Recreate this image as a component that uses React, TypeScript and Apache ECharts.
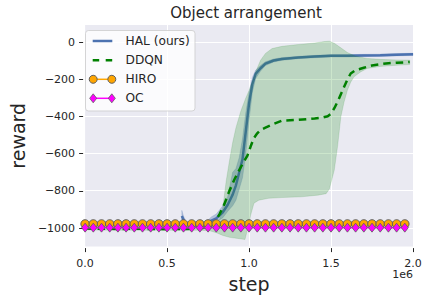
import React, { useEffect, useRef } from "react";
import * as echarts from "echarts";

const FONT = "DejaVu Sans";
const TEXT = "#262626";

// steps are in units of 1e6
const xMin = 0;
const xMax = 2;
const yMin = -1100;
const yMax = 93;
const xGrid = [0.5, 1.0, 1.5];
const yGrid = [-1000, -800, -600, -400, -200, 0];
const yTicks = [-1000, -800, -600, -400, -200, 0];

const halSteps = [0.59, 0.6, 0.61, 0.62, 0.66, 0.7, 0.74, 0.77, 0.8, 0.84, 0.87, 0.9, 0.92, 0.94, 0.96, 0.98, 1.0, 1.02, 1.04, 1.07, 1.1, 1.15, 1.2, 1.3, 1.4, 1.5, 1.6, 1.7, 1.8, 1.9, 2.0];
const halMean = [-935, -955, -970, -982, -985, -985, -978, -960, -948, -915, -875, -820, -770, -700, -630, -480, -330, -225, -170, -140, -115, -98, -90, -82, -77, -73, -73, -71, -70, -67, -65];
const halUpper = [-905, -935, -955, -972, -975, -975, -965, -940, -925, -880, -830, -700, -680, -620, -520, -380, -270, -190, -150, -125, -105, -90, -83, -76, -71, -67, -67, -65, -64, -61, -59];
const halLower = [-960, -975, -985, -992, -995, -995, -990, -978, -968, -945, -910, -880, -850, -790, -730, -600, -420, -270, -195, -155, -125, -106, -97, -88, -83, -79, -79, -77, -76, -73, -71];

const ddqnSteps = [0.0, 0.1, 0.2, 0.3, 0.4, 0.5, 0.6, 0.7, 0.75, 0.78, 0.8, 0.82, 0.85, 0.88, 0.91, 0.94, 0.97, 0.99, 1.01, 1.03, 1.05, 1.07, 1.1, 1.15, 1.2, 1.25, 1.3, 1.35, 1.4, 1.45, 1.48, 1.5, 1.52, 1.54, 1.56, 1.58, 1.6, 1.62, 1.65, 1.7, 1.75, 1.8, 1.85, 1.9, 1.95, 1.98];
const ddqnMean = [-1003, -1004, -1005, -1004, -1005, -1006, -1005, -1002, -995, -975, -955, -925, -870, -800, -740, -688, -640, -610, -560, -515, -490, -472, -460, -440, -422, -420, -418, -414, -410, -405, -398, -384, -355, -320, -280, -240, -200, -168, -150, -137, -125, -118, -113, -110, -108, -106];

const ddqnUpperSteps = [0.0, 0.2, 0.4, 0.6, 0.72, 0.78, 0.82, 0.84, 0.86, 0.88, 0.9, 0.92, 0.95, 0.98, 1.0, 1.02, 1.04, 1.07, 1.1, 1.14, 1.2, 1.3, 1.4, 1.46, 1.49, 1.52, 1.56, 1.6, 1.65, 1.72, 1.8, 1.9, 1.98];
const ddqnUpper = [-993, -993, -993, -993, -990, -978, -955, -890, -750, -640, -540, -460, -370, -300, -260, -210, -160, -97, -60, -34, -22, -12, -4, 4, 6, -5, -30, -55, -75, -87, -92, -95, -96];
const ddqnLowerSteps = [0.0, 0.2, 0.4, 0.6, 0.7, 0.76, 0.8, 0.84, 0.88, 0.93, 0.975, 0.99, 1.01, 1.03, 1.06, 1.12, 1.2, 1.32, 1.42, 1.47, 1.49, 1.52, 1.54, 1.56, 1.58, 1.6, 1.62, 1.64, 1.68, 1.72, 1.8, 1.9, 1.98];
const ddqnLower = [-1010, -1012, -1012, -1012, -1012, -1015, -1025, -1040, -1050, -1056, -1062, -1010, -930, -866, -850, -840, -836, -832, -823, -815, -790, -688, -560, -401, -320, -258, -215, -186, -160, -141, -130, -124, -120];

const markerSteps = [0, 0.05, 0.1, 0.15, 0.2, 0.25, 0.3, 0.35, 0.4, 0.45, 0.5, 0.55, 0.6, 0.65, 0.7, 0.75, 0.8, 0.85, 0.9, 0.95, 1.0, 1.05, 1.1, 1.15, 1.2, 1.25, 1.3, 1.35, 1.4, 1.45, 1.5, 1.55, 1.6, 1.65, 1.7, 1.75, 1.8, 1.85, 1.9, 1.95];
const hiroValues = [-978, -978, -978, -978, -978, -978, -978, -978, -978, -978, -978, -978, -978, -978, -978, -978, -978, -978, -978, -978, -978, -978, -978, -978, -978, -978, -978, -978, -978, -978, -978, -978, -978, -978, -978, -978, -978, -978, -978, -978];
const ocValues = [-998, -998, -998, -998, -998, -998, -998, -998, -998, -998, -998, -998, -998, -998, -998, -998, -998, -998, -998, -998, -998, -998, -998, -998, -998, -998, -998, -998, -998, -998, -998, -998, -998, -998, -998, -998, -998, -998, -998, -998];

const legendNames = ["HAL (ours)", "DDQN", "HIRO", "OC"];

const HAL_COLOR = "#4C72B0";
const DDQN_COLOR = "#008000";
const HIRO_COLOR = "#FFA500";
const OC_COLOR = "#FF00FF";
const EDGE = "#5f5f5f";
const PLOT_BG = "#EAEAF2";

function pair(xs: number[], ys: number[]) {
  return xs.map((x, i) => [x, ys[i]]);
}

function band(name: string, upX: number[], up: number[], loX: number[], lo: number[], color: string, z: number) {
  return {
    type: "custom",
    name,
    z,
    silent: true,
    clip: true,
    data: [[upX[0], up[0]]],
    renderItem: (_params: any, api: any) => {
      const pts: number[][] = [];
      for (let i = 0; i < upX.length; i++) pts.push(api.coord([upX[i], up[i]]));
      for (let i = loX.length - 1; i >= 0; i--) pts.push(api.coord([loX[i], lo[i]]));
      return {
        type: "polygon",
        shape: { points: pts },
        style: { fill: color, stroke: color, lineWidth: 0.6 },
      };
    },
  };
}

const backdrop = {
  type: "custom",
  name: "backdrop",
  z: 1,
  silent: true,
  clip: false,
  data: [[xMin, yMin]],
  renderItem: (_params: any, api: any) => {
    const tl = api.coord([xMin, yMax]);
    const br = api.coord([xMax, yMin]);
    const w = br[0] - tl[0];
    const h = br[1] - tl[1];
    const children: any[] = [
      {
        type: "rect",
        shape: { x: tl[0], y: tl[1], width: w, height: h },
        style: { fill: PLOT_BG },
      },
    ];
    for (let i = 0; i < yGrid.length; i++) {
      const p = api.coord([xMin, yGrid[i]]);
      children.push({
        type: "rect",
        shape: { x: tl[0], y: Math.round(p[1] - 0.5), width: w, height: 1 },
        style: { fill: "#ffffff" },
      });
    }
    for (let i = 0; i < xGrid.length; i++) {
      const p = api.coord([xGrid[i], yMin]);
      children.push({
        type: "rect",
        shape: { x: Math.round(p[0] - 0.5), y: tl[1], width: 1, height: h },
        style: { fill: "#ffffff" },
      });
    }
    return { type: "group", children };
  },
};

export default function App() {
  const ref = useRef<HTMLDivElement>(null);
  useEffect(() => {
    if (!ref.current) return;
    const chart = echarts.init(ref.current, undefined, { renderer: "svg" });
    const lx0 = 92.7;
    const lx1 = 112.3;
    const rows = [41, 60.3, 79.3, 98.3];
    const diamond = (cx: number, cy: number) => ({
      type: "polygon",
      z: 102,
      shape: { points: [[cx, cy - 4.5], [cx + 3.5, cy], [cx, cy + 4.5], [cx - 3.5, cy]] },
      style: { fill: OC_COLOR, stroke: EDGE, lineWidth: 0.8 },
    });
    const option: any = {
      animation: false,
      textStyle: { fontFamily: FONT },
      title: {
        text: "Object arrangement",
        left: 241,
        top: 0,
        textAlign: "center",
        textStyle: { fontFamily: FONT, fontSize: 15, fontWeight: "normal", color: TEXT },
      },
      grid: {
        left: 79,
        right: 16,
        top: 25,
        bottom: 51,
        show: false,
      },
      xAxis: {
        type: "value",
        min: xMin,
        max: xMax,
        interval: 0.5,
        offset: 1.5,
        axisLine: { show: false, onZero: false },
        axisTick: { show: true, length: 4, lineStyle: { color: TEXT, width: 1 } },
        axisLabel: {
          margin: 10,
          fontSize: 11,
          color: TEXT,
          fontFamily: FONT,
          formatter: (v: number) => v.toFixed(1),
        },
        splitLine: { show: false },
        name: "step",
        nameLocation: "middle",
        nameGap: 22,
        nameTextStyle: { fontSize: 19, color: TEXT, fontFamily: FONT },
      },
      yAxis: {
        type: "value",
        min: yMin,
        max: yMax,
        offset: 2,
        axisLine: { show: false, onZero: false },
        axisTick: { show: true, length: 4, lineStyle: { color: TEXT, width: 1 }, customValues: yTicks.slice() },
        axisLabel: {
          customValues: yTicks.slice(),
          margin: 8,
          fontSize: 11,
          color: TEXT,
          fontFamily: FONT,
          formatter: (v: number) => (v < 0 ? "\u2212" + Math.abs(v) : String(v)),
        },
        splitLine: { show: false },
        name: "reward",
        nameLocation: "middle",
        nameGap: 48,
        nameTextStyle: { fontSize: 19, color: TEXT, fontFamily: FONT },
      },
      series: [
        backdrop,
        band("HAL band", halSteps, halUpper, halSteps, halLower, "rgba(76,114,176,0.35)", 2),
        {
          type: "line",
          name: legendNames[0],
          z: 3,
          data: pair(halSteps, halMean),
          showSymbol: false,
          symbol: "none",
          lineStyle: { color: HAL_COLOR, width: 2.5 },
        },
        band("DDQN band", ddqnUpperSteps, ddqnUpper, ddqnLowerSteps, ddqnLower, "rgba(0,128,0,0.2)", 4),
        {
          type: "line",
          name: legendNames[1],
          z: 5,
          data: pair(ddqnSteps, ddqnMean),
          showSymbol: false,
          symbol: "none",
          lineStyle: { color: DDQN_COLOR, width: 2.5, type: [7.5, 5] },
        },
        {
          type: "line",
          name: legendNames[2],
          z: 6,
          data: pair(markerSteps, hiroValues),
          symbol: "circle",
          symbolSize: 8.5,
          itemStyle: { color: HIRO_COLOR, borderColor: EDGE, borderWidth: 1 },
          lineStyle: { color: HIRO_COLOR, width: 1.5 },
        },
        {
          type: "line",
          name: legendNames[3],
          z: 7,
          data: pair(markerSteps, ocValues),
          symbol: "diamond",
          symbolSize: [7, 9],
          itemStyle: { color: OC_COLOR, borderColor: EDGE, borderWidth: 0.8 },
          lineStyle: { color: OC_COLOR, width: 1.5 },
        },
      ],
      graphic: [
        {
          type: "text",
          right: 16,
          top: 269,
          style: { text: "1e6", fontSize: 11, fill: TEXT, fontFamily: FONT },
        },
        {
          type: "group",
          z: 100,
          children: [
            {
              type: "rect",
              z: 100,
              shape: { x: 85.5, y: 30.5, width: 109.5, height: 80.5, r: 3 },
              style: { fill: "rgba(255,255,255,0.8)", stroke: "rgba(204,204,204,0.8)", lineWidth: 1 },
            },
            {
              type: "line",
              z: 101,
              shape: { x1: lx0, y1: rows[0], x2: lx1, y2: rows[0] },
              style: { stroke: HAL_COLOR, lineWidth: 2.5 },
            },
            {
              type: "line",
              z: 101,
              shape: { x1: lx0, y1: rows[1], x2: lx1, y2: rows[1] },
              style: { stroke: DDQN_COLOR, lineWidth: 2.5, lineDash: [6.5, 6.5] },
            },
            {
              type: "line",
              z: 101,
              shape: { x1: lx0, y1: rows[2], x2: lx1, y2: rows[2] },
              style: { stroke: HIRO_COLOR, lineWidth: 1.5 },
            },
            {
              type: "circle",
              z: 102,
              shape: { cx: lx0 + 0.5, cy: rows[2], r: 4 },
              style: { fill: HIRO_COLOR, stroke: EDGE, lineWidth: 1 },
            },
            {
              type: "circle",
              z: 102,
              shape: { cx: lx1 - 0.5, cy: rows[2], r: 4 },
              style: { fill: HIRO_COLOR, stroke: EDGE, lineWidth: 1 },
            },
            {
              type: "line",
              z: 101,
              shape: { x1: lx0, y1: rows[3], x2: lx1, y2: rows[3] },
              style: { stroke: OC_COLOR, lineWidth: 1.5 },
            },
            diamond(lx0 + 0.5, rows[3]),
            diamond(lx1 - 0.5, rows[3]),
            ...legendNames.map((n, i) => ({
              type: "text",
              z: 103,
              x: 125.5,
              y: rows[i],
              style: {
                text: n,
                fontSize: 12.2,
                fill: TEXT,
                fontFamily: FONT,
                verticalAlign: "middle",
                align: "left",
              },
            })),
          ],
        },
      ],
    };
    chart.setOption(option);
    return () => chart.dispose();
  }, []);
  return (
    <div
      ref={ref}
      style={{ position: "fixed", left: 0, top: 0, width: 429, height: 298, background: "#ffffff" }}
    />
  );
}
